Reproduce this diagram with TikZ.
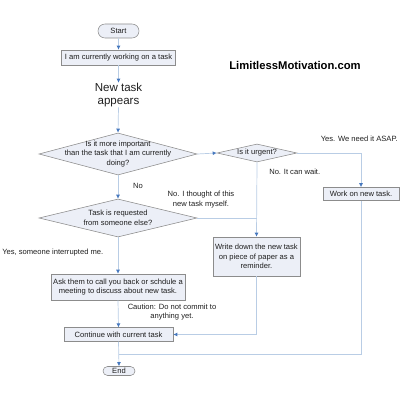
\documentclass[tikz,border=0pt]{standalone}
\usepackage{fontspec}
\setmainfont{Liberation Sans}
\usetikzlibrary{arrows.meta,shapes.geometric,shapes.misc}
\definecolor{linkblue}{RGB}{185,205,229}
\definecolor{tipblue}{RGB}{70,120,190}
\definecolor{boxfill}{RGB}{236,239,247}
\definecolor{boxline}{RGB}{140,140,140}
\definecolor{ink}{RGB}{30,30,30}

\begin{document}
\begin{tikzpicture}[x=0.025cm,y=-0.025cm,
    font=\fontsize{5.4}{6.8}\selectfont, text=ink,
    box/.style={draw=boxline,fill=boxfill,inner sep=0pt,align=center},
    terminal/.style={draw=boxline,fill=boxfill,rounded rectangle,inner sep=0pt},
    decision/.style={draw=boxline,fill=boxfill,diamond,inner sep=0pt},
    flow/.style={draw=linkblue,line width=0.5pt,-{Latex[length=1mm,width=1mm,color=tipblue]}},
    link/.style={draw=linkblue,line width=0.5pt},
    note/.style={align=center,inner sep=0pt}]
  \useasboundingbox (0,0) rectangle (400,400);
  % nodes
  \node[terminal,minimum width=1.025cm,minimum height=0.35cm] (start) at (118.5,31) {Start};
  \node[box,minimum width=2.85cm,minimum height=0.375cm] (working) at (118.5,57.5) {I am currently working on a task};
  \node[note,font=\fontsize{8.2}{9.4}\selectfont] (newtask) at (118.5,95) {New task\\appears};
  \node[font=\bfseries\fontsize{8}{9}\selectfont,text=black] (site) at (295,65) {LimitlessMotivation.com};
  \node[decision,minimum width=3.95cm,minimum height=1.05cm] (important) at (118,154) {};
  \node[note] (importanttxt) at (important) {Is it more important\\than the task that I am currently\\doing?};
  \node[decision,minimum width=2cm,minimum height=0.45cm] (urgent) at (257,153) {};
  \node[note] (urgenttxt) at (urgent) {Is it urgent?};
  \node[decision,minimum width=3.95cm,minimum height=0.95cm] (request) at (118,218) {};
  \node[note] (requesttxt) at (request) {Task is requested\\from someone else?};
  \node[box,minimum width=1.9cm,minimum height=0.325cm] (work) at (361,194) {Work on new task.};
  \node[box,minimum width=2.175cm,minimum height=0.975cm] (write) at (256.5,256.5) {Write down the new task\\on piece of paper as a\\reminder.};
  \node[box,minimum width=3.35cm,minimum height=0.65cm] (ask) at (118,287) {Ask them to call you back or schdule a\\meeting to discuss about new task.};
  \node[box,minimum width=2.725cm,minimum height=0.34cm] (continue) at (118.5,334.5) {Continue with current task};
  \node[terminal,minimum width=0.8cm,minimum height=0.225cm] (end) at (119,371) {End};
  \coordinate (merge) at (118.5,354);
  % connectors
  \draw[flow] (start) -- (working);
  \draw[flow] (working) -- (newtask.north);
  \draw[flow] (newtask.south) -- (important.north);
  \draw[flow] (important.east) -- (urgent.west);
  \draw[flow] (urgent.east) -| (work.north);
  \draw[flow] (urgent.south) -- (write.north);
  \draw[link] (request.east) -- (urgent.south |- request.east);
  \draw[flow] (important.south) -- (request.north);
  \draw[flow] (request.south) -- (ask.north);
  \draw[flow] (ask.south) -- (continue.north);
  \draw[flow] (write.south) |- (continue.east);
  \draw[link] (work.south) |- (merge);
  \draw[flow] (continue.south) -- (end.north);
  % labels
  \node[note,anchor=east] (yesasap) at (398,139) {Yes. We need it ASAP.};
  \node[note,anchor=west] (canwait) at (269,172) {No. It can wait.};
  \node[note] (no) at (138,186) {No};
  \node[note] (myself) at (201,199.5) {No. I thought of this\\new task myself.};
  \node[note,anchor=west] (interrupted) at (2,253) {Yes, someone interrupted me.};
  \node[note] (caution) at (172,312) {Caution: Do not commit to\\anything yet.};
\end{tikzpicture}
\end{document}
